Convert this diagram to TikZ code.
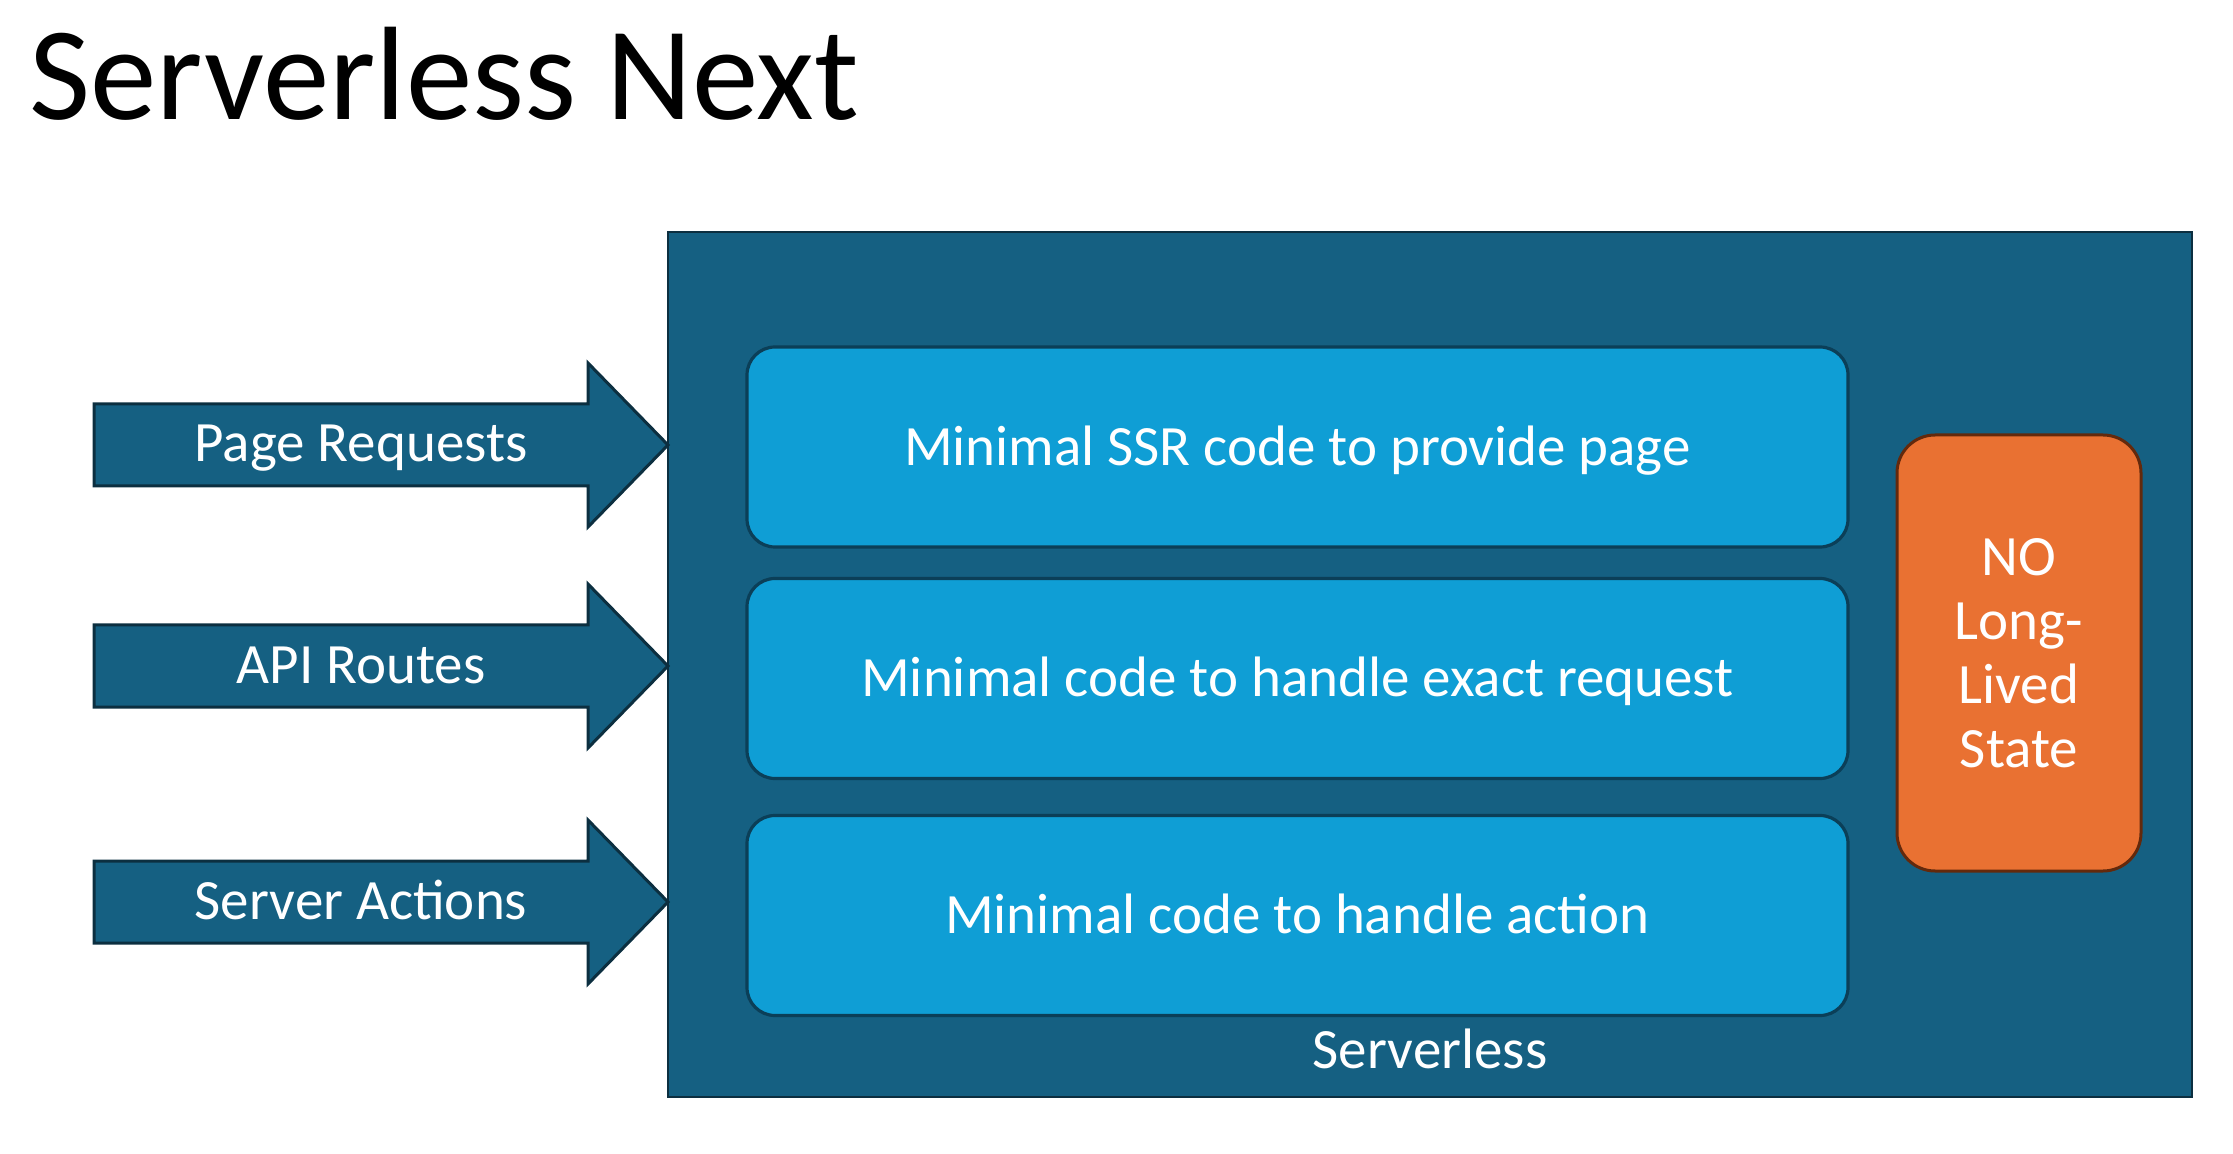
\documentclass[tikz,border=0pt]{standalone}
\usepackage{fontspec}
\setmainfont{Carlito}
\definecolor{tealfill}{HTML}{156082}
\definecolor{tealline}{HTML}{0C2F40}
\definecolor{skyfill}{HTML}{0F9ED5}
\definecolor{skyline}{HTML}{0B3F58}
\definecolor{orangefill}{HTML}{E97132}
\definecolor{orangeline}{HTML}{63290C}

\begin{document}
\begin{tikzpicture}[x=0.5pt,y=-0.5pt,
    outerbox/.style={draw=tealline,fill=tealfill,line width=1.2pt,minimum width=762pt,minimum height=432.5pt},
    codebox/.style={draw=skyline,fill=skyfill,line width=1.6pt,rounded corners=14pt,
                    minimum width=550.5pt,minimum height=100pt,text height=18.4pt,text depth=0pt,
                    text=white,font=\fontsize{28.5}{32}\selectfont},
    statebox/.style={draw=orangeline,fill=orangefill,line width=1.5pt,rounded corners=19pt,
                     minimum width=122pt,minimum height=218pt,text=white,align=center,font=\fontsize{28.5}{32}\selectfont},
    inarrow/.style={draw=tealline,fill=tealfill,line width=1.5pt},
    lbl/.style={text=white,font=\fontsize{28.5}{32}\selectfont}]
\useasboundingbox (0,0) rectangle (2233,1154);
% title
\node[anchor=base west,inner sep=0pt,font=\fontsize{66.5}{70}\selectfont] (title) at (29,120) {Serverless Next};
% serverless frame
\node[outerbox] (serverless) at (1430,664.5) {};
\node[lbl,anchor=base] (serverlesslbl) at (1430,1068) {Serverless};
% inner code boxes
\node[codebox] (ssr) at (1297.5,447) {Minimal SSR code to provide page};
\node[codebox] (request) at (1297.5,678.5) {Minimal code to handle exact request};
\node[codebox] (action) at (1297.5,915.5) {Minimal code to handle action};
% no state
\node[statebox] (state) at (2019,653) {NO\\Long-\\Lived\\State};
% incoming arrows
\foreach \y/\txt/\name in {445/Page Requests/pages, 666/API Routes/api, 902/Server Actions/actions} {
  \draw[inarrow] (94,\y-41) -- (588,\y-41) -- (588,\y-82) -- (668,\y)
                 -- (588,\y+82) -- (588,\y+41) -- (94,\y+41) -- cycle;
  \node[lbl,anchor=base] (\name) at (361,\y+17) {\txt};
}
\end{tikzpicture}
\end{document}
